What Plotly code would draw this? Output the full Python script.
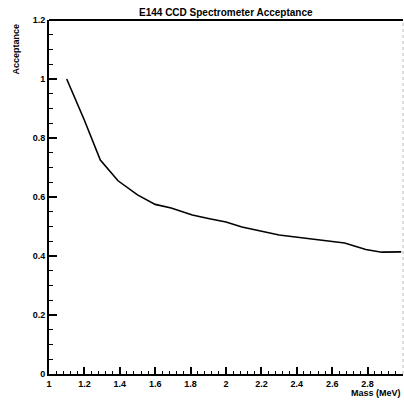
import plotly.graph_objects as go

mass = [1.10, 1.20, 1.29, 1.39, 1.50, 1.60, 1.69, 1.81, 1.90, 2.00, 2.09, 2.20, 2.30, 2.45, 2.56, 2.67, 2.79, 2.88, 2.99]
acceptance = [1.00, 0.86, 0.725, 0.655, 0.607, 0.575, 0.563, 0.539, 0.527, 0.515, 0.498, 0.485, 0.471, 0.460, 0.451, 0.444, 0.422, 0.413, 0.414]

x_ticks = [1, 1.2, 1.4, 1.6, 1.8, 2, 2.2, 2.4, 2.6, 2.8]
x_ticklabels = ["1", "1.2", "1.4", "1.6", "1.8", "2", "2.2", "2.4", "2.6", "2.8"]
y_ticks = [0, 0.2, 0.4, 0.6, 0.8, 1, 1.2]
y_ticklabels = ["0", "0.2", "0.4", "0.6", "0.8", "1", "1.2"]

font = dict(family="Liberation Sans, Arial, sans-serif", size=9, color="black", weight="bold")
title_font = dict(family="Liberation Sans, Arial, sans-serif", size=10, color="black", weight="bold")

fig = go.Figure()
fig.add_trace(go.Scatter(x=mass, y=acceptance, mode="lines",
                         line=dict(color="black", width=1.6), showlegend=False))

fig.update_layout(
    width=404, height=402,
    margin=dict(l=49, r=1, t=20, b=28),
    paper_bgcolor="white", plot_bgcolor="white",
    font=font,
    xaxis=dict(range=[1, 3], showgrid=False, zeroline=False,
               showline=True, linecolor="black", linewidth=2, mirror=False,
               ticks="inside", ticklen=7, tickwidth=1.5, tickcolor="black",
               tickvals=x_ticks, ticktext=x_ticklabels, tickfont=font,
               minor=dict(dtick=0.04, tick0=1, ticks="inside", ticklen=3, tickwidth=1.2, tickcolor="black")),
    yaxis=dict(range=[0, 1.2], showgrid=False, zeroline=False,
               showline=True, linecolor="black", linewidth=2, mirror=False,
               ticks="inside", ticklen=8, tickwidth=1.5, tickcolor="black",
               tickvals=y_ticks, ticktext=y_ticklabels, tickfont=font,
               minor=dict(dtick=0.05, tick0=0, ticks="inside", ticklen=4, tickwidth=1.2, tickcolor="black")),
)

# top frame line and faint right frame line
fig.add_shape(type="line", xref="paper", yref="paper", x0=0, x1=1, y0=1, y1=1,
              line=dict(color="black", width=2))
fig.add_shape(type="line", xref="paper", yref="paper", x0=1, x1=1, y0=0, y1=1,
              line=dict(color="#bbbbbb", width=1, dash="dot"))

fig.add_annotation(text="E144 CCD Spectrometer Acceptance", xref="paper", yref="paper",
                   x=0.50, y=1.0, yshift=8, showarrow=False, font=title_font,
                   xanchor="center", yanchor="middle")
fig.add_annotation(text="Acceptance", xref="paper", yref="paper",
                   x=0, xshift=-34, y=1.0, yshift=-2, showarrow=False, font=font,
                   textangle=-90, xanchor="center", yanchor="top")
fig.add_annotation(text="Mass (MeV)", xref="paper", yref="paper",
                   x=1.0, y=0, yshift=-19, showarrow=False, font=font,
                   xanchor="right", yanchor="middle")

fig.write_html("out.html")
